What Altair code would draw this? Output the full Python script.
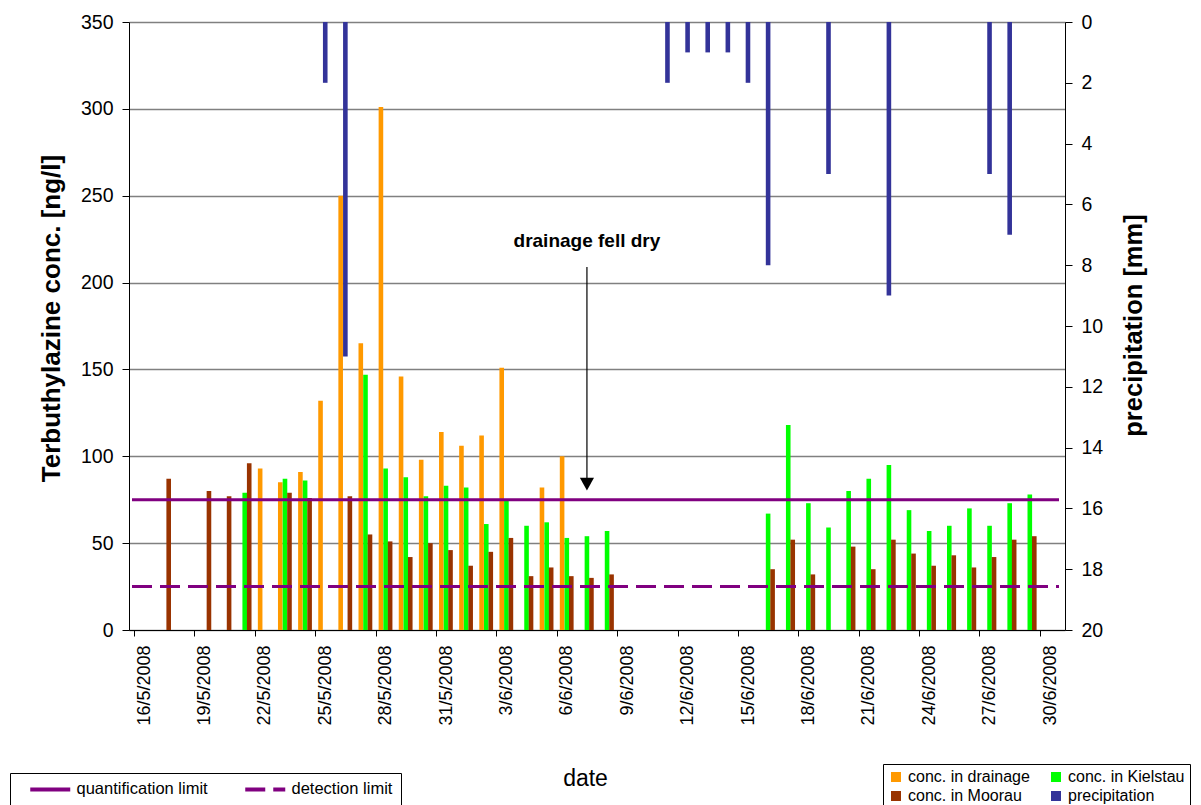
import altair as alt
import pandas as pd

FONT = "Liberation Sans"

# ---- categories (46 daily slots) ----
dates = [f"{d}/5/2008" for d in range(16, 32)] + [f"{d}/6/2008" for d in range(1, 31)]

series_names = ["conc. in drainage", "conc. in Kielstau", "conc. in Moorau", "precipitation"]
series_colors = ["#FF9900", "#00FF00", "#993300", "#333399"]

# ---- series values ----
drainage = {
    "22/5/2008": 93, "23/5/2008": 85, "24/5/2008": 91, "25/5/2008": 132, "26/5/2008": 250,
    "27/5/2008": 165, "28/5/2008": 301, "29/5/2008": 146, "30/5/2008": 98, "31/5/2008": 114,
    "1/6/2008": 106, "2/6/2008": 112, "3/6/2008": 151, "5/6/2008": 82, "6/6/2008": 100,
}
kielstau = {
    "21/5/2008": 79, "23/5/2008": 87, "24/5/2008": 86, "27/5/2008": 147, "28/5/2008": 93,
    "29/5/2008": 88, "30/5/2008": 77, "31/5/2008": 83, "1/6/2008": 82, "2/6/2008": 61,
    "3/6/2008": 75, "4/6/2008": 60, "5/6/2008": 62, "6/6/2008": 53, "7/6/2008": 54,
    "8/6/2008": 57, "16/6/2008": 67, "17/6/2008": 118, "18/6/2008": 73, "19/6/2008": 59,
    "20/6/2008": 80, "21/6/2008": 87, "22/6/2008": 95, "23/6/2008": 69, "24/6/2008": 57,
    "25/6/2008": 60, "26/6/2008": 70, "27/6/2008": 60, "28/6/2008": 73, "29/6/2008": 78,
}
moorau = {
    "17/5/2008": 87, "19/5/2008": 80, "20/5/2008": 77, "21/5/2008": 96, "23/5/2008": 79,
    "24/5/2008": 76, "26/5/2008": 77, "27/5/2008": 55, "28/5/2008": 51, "29/5/2008": 42,
    "30/5/2008": 50, "31/5/2008": 46, "1/6/2008": 37, "2/6/2008": 45, "3/6/2008": 53,
    "4/6/2008": 31, "5/6/2008": 36, "6/6/2008": 31, "7/6/2008": 30, "8/6/2008": 32,
    "16/6/2008": 35, "17/6/2008": 52, "18/6/2008": 32, "20/6/2008": 48, "21/6/2008": 35,
    "22/6/2008": 52, "23/6/2008": 44, "24/6/2008": 37, "25/6/2008": 43, "26/6/2008": 36,
    "27/6/2008": 42, "28/6/2008": 52, "29/6/2008": 54,
}
precipitation = {
    "25/5/2008": 2, "26/5/2008": 11, "11/6/2008": 2, "12/6/2008": 1, "13/6/2008": 1,
    "14/6/2008": 1, "15/6/2008": 2, "16/6/2008": 8, "19/6/2008": 5, "22/6/2008": 9,
    "27/6/2008": 5, "28/6/2008": 7,
}

limit_names = ["quantification limit", "detection limit"]
limit_values = [75, 25]

ann_date = "7/6/2008"
ann_label = "drainage fell dry"
ann_text_y = 224
ann_arrow_top = 209
ann_arrow_head = 84

# ---- tables ----
def frame(d, name, col="value"):
    return pd.DataFrame({
        "pos": [dates.index(k) + 0.5 for k in d],
        col: list(d.values()),
        "series": name,
    })

df_dr = frame(drainage, series_names[0])
df_ki = frame(kielstau, series_names[1])
df_mo = frame(moorau, series_names[2])
df_pr = frame(precipitation, series_names[3], col="precip")
df_lim = pd.DataFrame({"limit": limit_names, "value": limit_values})
apos = dates.index(ann_date) + 0.5
df_txt = pd.DataFrame({"pos": [apos], "value": [ann_text_y], "label": [ann_label]})
df_arrow = pd.DataFrame({"pos": [apos], "value": [ann_arrow_top], "value2": [ann_arrow_head + 2]})
df_head = pd.DataFrame({"pos": [apos], "value": [ann_arrow_head]})

W, H = 936, 608
label_expr = "[" + ",".join(f"'{d}'" for d in dates) + "][datum.value]"

x_enc = alt.X(
    "pos:Q",
    scale=alt.Scale(domain=[0, len(dates)], nice=False, zero=False),
    axis=alt.Axis(
        values=list(range(0, len(dates), 3)), labelExpr=label_expr,
        labelAngle=-90, labelOffset=W / len(dates) / 2, labelFontSize=18,
        labelFont=FONT, labelColor="black", labelPadding=9,
        tickSize=6, tickColor="black", domainColor="black", grid=False,
        title="date", titleFontSize=23, titleFontWeight="normal", titleFont=FONT,
        titleX=456, titleY=148, titleBaseline="middle", titleAlign="center",
        titleColor="black",
    ),
)

left_scale = alt.Scale(domain=[0, 350], nice=False, zero=True)
left_axis = alt.Axis(
    values=list(range(0, 351, 50)), labelFontSize=19.5, labelFont=FONT,
    labelColor="black", labelPadding=9, tickSize=7, tickColor="black",
    domainColor="black", grid=True, gridColor="#808080", gridWidth=1.3,
    title="Terbuthylazine conc. [ng/l]", titleFontSize=26, titleFont=FONT,
    titleFontWeight="bold", titleColor="black", titleAngle=-90,
    titleX=-78, titleY=296, titleBaseline="middle", titleAlign="center",
)
y_left = alt.Y("value:Q", stack=None, scale=left_scale, axis=left_axis)

y_right = alt.Y(
    "precip:Q",
    scale=alt.Scale(domain=[0, 20], reverse=True, nice=False),
    stack=None,
    axis=alt.Axis(
        orient="right", values=list(range(0, 21, 2)), labelFontSize=19.5,
        labelFont=FONT, labelColor="black", labelPadding=9, tickSize=7,
        tickColor="black", domainColor="black", grid=False,
        title="precipitation [mm]", titleFontSize=25.5, titleFont=FONT,
        titleFontWeight="bold", titleColor="black", titleAngle=-90,
        titleX=68, titleY=303, titleBaseline="middle", titleAlign="center",
    ),
)

color_legend = alt.Legend(
    orient="none", legendX=754, legendY=742, columns=2, direction="horizontal",
    title=None, symbolType="square", symbolSize=100, symbolStrokeWidth=0,
    labelFontSize=16, labelFont=FONT, labelColor="black", labelOffset=4,
    strokeColor="black", fillColor="white", padding=5, columnPadding=18,
    rowPadding=3, labelLimit=400,
)
color_enc = alt.Color("series:N", scale=alt.Scale(domain=series_names, range=series_colors),
                      legend=color_legend)

BW = 4.6
bars_dr = alt.Chart(df_dr).mark_bar(width=BW, xOffset=-4.7).encode(x=x_enc, y=y_left, color=color_enc)
bars_ki = alt.Chart(df_ki).mark_bar(width=BW, xOffset=0).encode(x=x_enc, y=y_left, color=color_enc)
bars_mo = alt.Chart(df_mo).mark_bar(width=BW, xOffset=4.5).encode(x=x_enc, y=y_left, color=color_enc)

limits = alt.Chart(df_lim).mark_rule(color="#800080", strokeWidth=3).encode(
    x=alt.value(3), x2=alt.value(930), y=y_left,
    strokeDash=alt.StrokeDash(
        "limit:N",
        scale=alt.Scale(domain=limit_names, range=[[1, 0], [20, 8]]),
        legend=alt.Legend(
            orient="none", legendX=-119, legendY=751, columns=2, direction="horizontal",
            title=None, symbolType="M-4,0L4,0", symbolSize=100, symbolStrokeWidth=4,
            symbolOffset=24, symbolStrokeColor="#800080", symbolFillColor="transparent",
            labelFontSize=16.5, labelFont=FONT,
            labelColor="black", labelOffset=18, strokeColor="black",
            fillColor="white", padding=8, columnPadding=25, labelLimit=400,
        ),
    ),
)

arrow = alt.Chart(df_arrow).mark_rule(color="black", strokeWidth=1.2).encode(
    x=x_enc, y=y_left, y2=alt.Y2("value2:Q"))
head = alt.Chart(df_head).mark_point(
    shape="M-1,-0.9L1,-0.9L0,0.9Z", filled=True, color="black", size=200, opacity=1
).encode(x=x_enc, y=y_left)
txt = alt.Chart(df_txt).mark_text(
    font=FONT, fontSize=19, fontWeight="bold", color="black", align="center", baseline="middle"
).encode(x=x_enc, y=y_left, text="label:N")

left = alt.layer(bars_dr, bars_ki, bars_mo, limits, arrow, head, txt)

precip = alt.Chart(df_pr).mark_bar(width=BW).encode(x=x_enc, y=y_right, color=color_enc)

chart = alt.layer(left, precip).resolve_scale(y="independent").properties(
    width=W, height=H,
    autosize=alt.AutoSizeParams(type="none"),
    padding={"left": 121, "top": 14, "right": 128, "bottom": 175},
    background="white",
).configure_view(stroke=None).configure(font=FONT)

chart.save("out.html", embed_options={"renderer": "svg", "actions": False})
